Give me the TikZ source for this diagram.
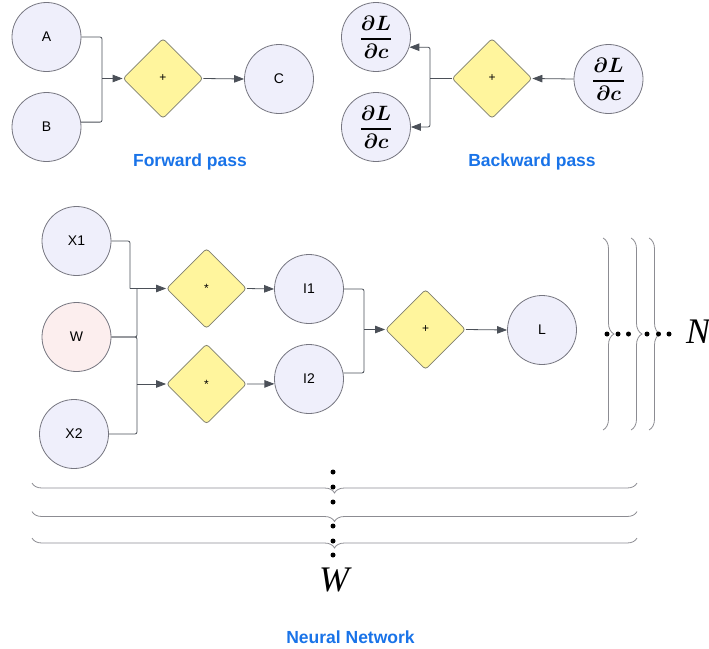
\documentclass[tikz,border=0pt]{standalone}
\usepackage{amsmath}
\usepackage{fontspec}
\setsansfont{Liberation Sans}
\newfontfamily\timesfam{Liberation Serif}
\usetikzlibrary{shapes.geometric,arrows.meta,decorations.pathreplacing,calc}

\definecolor{nodefill}{RGB}{239,239,251}
\definecolor{wfill}{RGB}{252,238,238}
\definecolor{opfill}{RGB}{255,245,157}
\definecolor{nodeline}{RGB}{118,118,128}
\definecolor{opline}{RGB}{128,128,112}
\definecolor{wirecol}{RGB}{75,80,88}
\definecolor{captionblue}{RGB}{25,115,232}
\definecolor{bracegray}{RGB}{140,140,146}

\tikzset{
  valnode/.style={circle, draw=nodeline, fill=nodefill, line width=0.8pt,
    minimum size=69pt, inner sep=0pt, font=\sffamily\fontsize{14}{16}\selectfont},
  gradnode/.style={valnode, font=\fontsize{21}{25}\selectfont},
  opnode/.style={diamond, draw=opline, fill=opfill, line width=0.8pt,
    minimum width=80pt, minimum height=80pt, inner sep=0pt, rounded corners=3pt,
    font=\sffamily\fontsize{12}{14}\selectfont},
  wire/.style={draw=wirecol, line width=0.8pt, rounded corners=2pt},
  arrow/.style={wire, -{Triangle[length=10pt,width=7.5pt]}},
  caption/.style={text=captionblue, font=\sffamily\bfseries\fontsize{17.5}{20}\selectfont},
  vbrace/.style={draw=bracegray, line width=0.8pt, decorate,
    decoration={brace, amplitude=11pt}},
  hbrace/.style={draw=bracegray, line width=0.8pt, decorate,
    decoration={brace, amplitude=10pt}},
  dot/.style={circle, fill=black, inner sep=0pt, minimum size=5pt},
  bigsym/.style={inner sep=0pt, font=\timesfam\itshape\fontsize{36}{40}\selectfont},
}

\begin{document}
\begin{tikzpicture}[x=1pt,y=-1pt]
\useasboundingbox (0,0) rectangle (709,648);

% ---------------- forward pass ----------------
\node[valnode] (A) at (46.5,37) {A};
\node[valnode] (B) at (46.5,127) {B};
\node[opnode] (fadd) at (163,78.5) {+};
\node[valnode] (C) at (279,79) {C};
\coordinate (fj) at (102,78.5);
\draw[wire] (A.east) -| (fj);
\draw[wire] (B.8) -| (fj);
\draw[arrow] (fj) -- (fadd.west);
\draw[arrow] (fadd.east) -- (C.west);
\node[caption] (fwdcap) at (190,162) {Forward pass};

% ---------------- backward pass ----------------
\node[gradnode] (ga) at (376,37)
  {$\genfrac{}{}{1.3pt}{0}{\boldsymbol{\partial L}}{\boldsymbol{\partial c}}$};
\node[gradnode] (gb) at (376,127)
  {$\genfrac{}{}{1.3pt}{0}{\boldsymbol{\partial L}}{\boldsymbol{\partial c}}$};
\node[opnode] (badd) at (492,78.5) {+};
\node[gradnode] (gc) at (608.5,79)
  {$\genfrac{}{}{1.3pt}{0}{\boldsymbol{\partial L}}{\boldsymbol{\partial c}}$};
\coordinate (bj) at (430,78.5);
\draw[arrow] (gc.west) -- (badd.east);
\draw[wire] (badd.west) -- (bj);
\draw[arrow] (bj) |- (ga.-17);
\draw[arrow] (bj) |- (gb.east);
\node[caption] (bwdcap) at (532,162) {Backward pass};

% ---------------- neural network ----------------
\node[valnode] (X1) at (76.5,241) {X1};
\node[valnode, fill=wfill] (W) at (76.5,337) {W};
\node[valnode] (X2) at (74,434) {X2};
\node[opnode] (mul1) at (206.5,288.5) {*};
\node[opnode] (mul2) at (206.5,384) {*};
\node[valnode] (I1) at (309,289) {I1};
\node[valnode] (I2) at (309,379) {I2};
\node[opnode] (nadd) at (425.5,329.5) {+};
\node[valnode] (L) at (542,330) {L};

\coordinate (xj1) at (130,288.5);
\coordinate (wj1) at (137,288.5);
\coordinate (wj2) at (137,384);
\coordinate (ij) at (364,329.5);

\draw[wire] (X1.east) -| (xj1);
\draw[wire] (W.east) -| (wj1);
\draw[wire] (W.east) -| (wj2);
\draw[wire] (X2.east) -| (wj2);
\draw[arrow] (xj1) -- (mul1.west);
\draw[arrow] (wj2) -- (mul2.west);
\draw[arrow] (mul1.east) -- (I1.west);
\draw[arrow] (mul2.east) -- (I2.188);
\draw[wire] (I1.east) -| (ij);
\draw[wire] (I2.10) -| (ij);
\draw[arrow] (ij) -- (nadd.west);
\draw[arrow] (nadd.east) -- (L.west);

% depth: repeated layers on the right
\draw[vbrace] (603,238) -- (603,430);
\draw[vbrace] (631,238) -- (631,430);
\draw[vbrace] (649,238) -- (649,430);
\foreach \x [count=\i] in {607,618,628.5,647,658.5,669}
  \node[dot] (hd\i) at (\x,334) {};
\node[bigsym] (Nlabel) at (698,331.5) {N};

% width: repeated layers below
\draw[hbrace] (637,483) -- (32,483);
\draw[hbrace] (637,511.5) -- (32,511.5);
\draw[hbrace] (637,538) -- (32,538);
\foreach \y [count=\i] in {472,487,502,526,541,555}
  \node[dot] (vd\i) at (333,\y) {};
\node[bigsym] (Wlabel) at (334,579.5) {W};

\node[caption] (nncap) at (350.5,637) {Neural Network};
\end{tikzpicture}
\end{document}
